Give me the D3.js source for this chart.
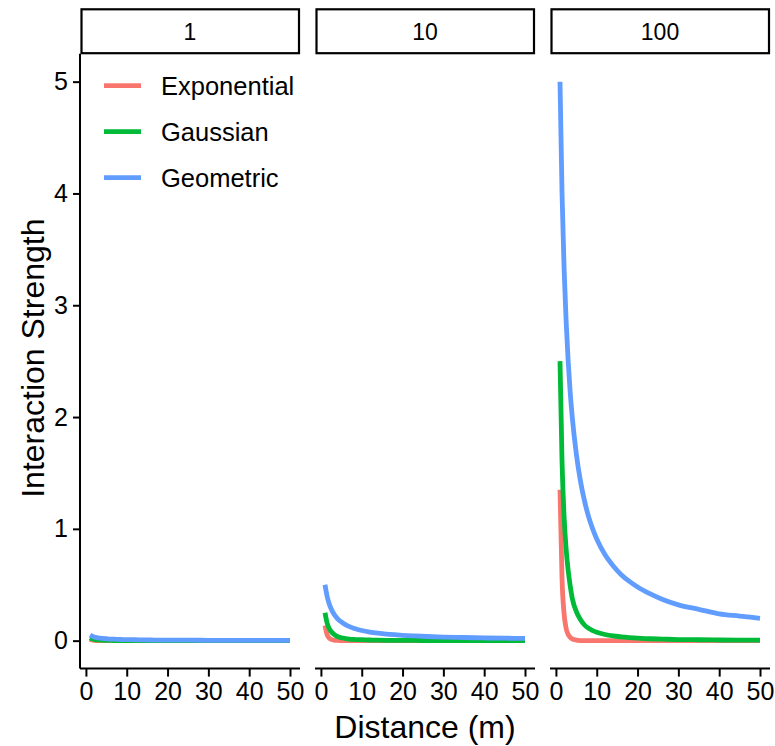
<!DOCTYPE html>
<html>
<head>
<meta charset="utf-8">
<script src="https://cdn.jsdelivr.net/npm/d3@7"></script>
<style>
  html, body { margin: 0; padding: 0; background: #fff; }
  svg { display: block; }
  text { font-family: "Liberation Sans", Arial, sans-serif; fill: #000; }
</style>
</head>
<body>
<svg id="chart" width="775" height="746"></svg>
<script>
// ---- data ----
const panels = ["1", "10", "100"];
const seriesNames = ["Exponential", "Gaussian", "Geometric"];
const seriesColors = ["#F8766D", "#00BA38", "#619CFF"];
const distance = [1, 1.5, 2, 2.5, 3, 3.5, 4, 5, 6, 7, 8, 9, 10, 12, 14, 16, 18, 20, 23, 26, 30, 35, 40, 45, 50];

const exp1 = [0.014, 0.006, 0.002, 0.001, 0.001, 0, 0, 0, 0, 0, 0, 0, 0, 0, 0, 0, 0, 0, 0, 0, 0, 0, 0, 0, 0];
const gau1 = [0.025, 0.016, 0.011, 0.008, 0.006, 0.005, 0.004, 0.003, 0.002, 0.001, 0.001, 0.001, 0.001, 0, 0, 0, 0, 0, 0, 0, 0, 0, 0, 0, 0];
const geo1 = [0.050, 0.040, 0.033, 0.029, 0.025, 0.022, 0.020, 0.017, 0.014, 0.013, 0.011, 0.010, 0.009, 0.008, 0.007, 0.006, 0.005, 0.005, 0.004, 0.004, 0.003, 0.003, 0.002, 0.002, 0.002];

const exp10 = [0.135, 0.055, 0.024, 0.011, 0.006, 0.003, 0.002, 0.001, 0, 0, 0, 0, 0, 0, 0, 0, 0, 0, 0, 0, 0, 0, 0, 0, 0];
const gau10 = [0.250, 0.160, 0.111, 0.082, 0.063, 0.049, 0.038, 0.026, 0.019, 0.014, 0.011, 0.009, 0.008, 0.006, 0.004, 0.003, 0.003, 0.002, 0.002, 0.001, 0.001, 0.001, 0.001, 0, 0];
const geo10 = [0.500, 0.400, 0.333, 0.286, 0.250, 0.222, 0.200, 0.167, 0.143, 0.125, 0.111, 0.100, 0.091, 0.077, 0.067, 0.059, 0.053, 0.048, 0.042, 0.037, 0.032, 0.028, 0.024, 0.022, 0.020];

const exp100 = [1.35, 0.55, 0.24, 0.11, 0.055, 0.03, 0.016, 0.005, 0.001, 0, 0, 0, 0, 0, 0, 0, 0, 0, 0, 0, 0, 0, 0, 0, 0];
const gau100 = [2.50, 1.60, 1.11, 0.82, 0.63, 0.49, 0.38, 0.26, 0.19, 0.14, 0.11, 0.09, 0.075, 0.055, 0.042, 0.034, 0.028, 0.023, 0.017, 0.014, 0.010, 0.008, 0.006, 0.005, 0.004];
const geo100 = [5.00, 4.00, 3.33, 2.86, 2.50, 2.22, 2.00, 1.67, 1.43, 1.25, 1.11, 1.00, 0.91, 0.77, 0.67, 0.59, 0.53, 0.48, 0.42, 0.37, 0.32, 0.28, 0.24, 0.22, 0.20];

const xTicks = [0, 10, 20, 30, 40, 50];
const yTicks = [0, 1, 2, 3, 4, 5];

const panelData = [
  [exp1, gau1, geo1],
  [exp10, gau10, geo10],
  [exp100, gau100, geo100]
];

// ---- layout ----
const svg = d3.select("#chart");
const panelLeft = [80, 315, 550];
const panelW = 220;
const panelTop = 53.7, panelBottom = 668.6;
const stripTop = 9.3;
const FONT = "'Liberation Sans', Arial, sans-serif";

const y = d3.scaleLinear().domain([-0.25, 5.25]).range([panelBottom, panelTop]);

panels.forEach((p, i) => {
  const x = d3.scaleLinear().domain([-1.45, 52.45]).range([panelLeft[i], panelLeft[i] + panelW]);
  const g = svg.append("g");

  // strip
  g.append("rect")
    .attr("x", panelLeft[i] + 1.5).attr("y", stripTop)
    .attr("width", panelW - 2.5).attr("height", panelTop - stripTop - 0.5)
    .attr("fill", "#fff").attr("stroke", "#000").attr("stroke-width", 2.2);
  g.append("text")
    .attr("x", panelLeft[i] + panelW / 2).attr("y", (stripTop + panelTop) / 2 + 8)
    .attr("text-anchor", "middle").style("font-size", "23px").text(p);

  // lines
  const line = d3.line()
    .x((d, k) => x(distance[k]))
    .y(d => y(d))
    .curve(d3.curveMonotoneX);
  panelData[i].forEach((vals, s) => {
    g.append("path")
      .attr("d", line(vals))
      .attr("fill", "none")
      .attr("stroke", seriesColors[s])
      .attr("stroke-width", 4.8)
      .attr("stroke-linejoin", "round");
  });

  // x axis
  const xa = g.append("g").attr("transform", `translate(0,${panelBottom})`)
    .call(d3.axisBottom(x).tickValues(xTicks).tickFormat(d3.format("d")).tickSize(8).tickPadding(6).tickSizeOuter(0));
  xa.select(".domain").attr("stroke", "#000").attr("stroke-width", 2)
    .attr("d", `M${panelLeft[i]},0H${panelLeft[i] + panelW}`);
  xa.selectAll(".tick line").attr("stroke", "#000").attr("stroke-width", 2);
  xa.selectAll(".tick text").style("font-size", "25px").style("font-family", FONT).attr("fill", "#000");

  // y axis only first panel
  if (i === 0) {
    const ya = g.append("g").attr("transform", `translate(${panelLeft[i]},0)`)
      .call(d3.axisLeft(y).tickValues(yTicks).tickFormat(d3.format("d")).tickSize(7).tickPadding(5).tickSizeOuter(0));
    ya.select(".domain").attr("stroke", "#000").attr("stroke-width", 2)
      .attr("d", `M0,${panelTop}V${panelBottom}`);
    ya.selectAll(".tick line").attr("stroke", "#000").attr("stroke-width", 2);
    ya.selectAll(".tick text").style("font-size", "25px").style("font-family", FONT).attr("fill", "#000");
  }
});

// axis titles
svg.append("text")
  .attr("x", (panelLeft[0] + panelLeft[2] + panelW) / 2).attr("y", 738)
  .attr("text-anchor", "middle").style("font-size", "32px").text("Distance (m)");
svg.append("text")
  .attr("transform", `translate(44,${(panelTop + panelBottom) / 2 - 3}) rotate(-90)`)
  .attr("text-anchor", "middle").style("font-size", "32px").text("Interaction Strength");

// legend
const legendY = [85.7, 131.7, 177.7];
seriesNames.forEach((n, s) => {
  svg.append("line")
    .attr("x1", 104).attr("x2", 141).attr("y1", legendY[s]).attr("y2", legendY[s])
    .attr("stroke", seriesColors[s]).attr("stroke-width", 4.8);
  svg.append("text")
    .attr("x", 161).attr("y", legendY[s] + 9)
    .style("font-size", "25.5px").text(n);
});
</script>
</body>
</html>
